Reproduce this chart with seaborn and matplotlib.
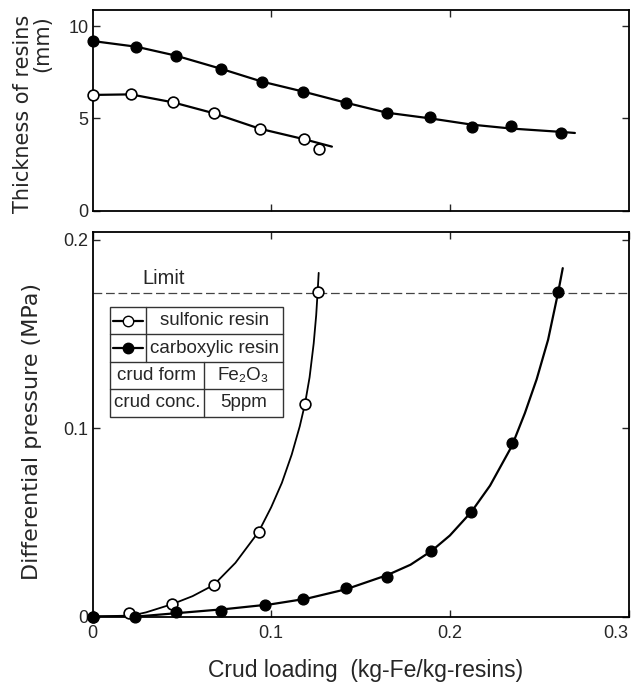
import numpy as np
import pandas as pd
import seaborn as sns
import matplotlib
matplotlib.use("Agg")
from matplotlib import pyplot as plt
from matplotlib.patches import Rectangle

# --- data ---
# upper panel: thickness of resins (mm)
thk_sulf_x = [0, 0.0215, 0.045, 0.0678, 0.0936, 0.1185, 0.1265]
thk_sulf_y = [6.27, 6.31, 5.87, 5.28, 4.44, 3.87, 3.36]
thk_carb_x = [0, 0.0246, 0.0466, 0.0718, 0.0949, 0.118, 0.1418, 0.1646, 0.189, 0.2124, 0.2343, 0.262]
thk_carb_y = [9.19, 8.88, 8.40, 7.69, 6.99, 6.45, 5.85, 5.31, 5.06, 4.52, 4.59, 4.23]

# fitted curves drawn through the upper panel
fit_thk_sulf_x = [0, 0.0215, 0.045, 0.0678, 0.0936, 0.1185, 0.134]
fit_thk_sulf_y = [6.27, 6.30, 5.87, 5.28, 4.44, 3.87, 3.47]
fit_thk_carb_x = [0, 0.0246, 0.0466, 0.0718, 0.0949, 0.118, 0.1418, 0.1646, 0.189, 0.2124, 0.2343, 0.262, 0.27]
fit_thk_carb_y = [9.19, 8.88, 8.40, 7.69, 6.99, 6.45, 5.85, 5.31, 5.0, 4.66, 4.45, 4.27, 4.21]

# lower panel: differential pressure (MPa)
dp_sulf_x = [0, 0.0204, 0.0447, 0.0678, 0.093, 0.1189, 0.126]
dp_sulf_y = [0, 0.002, 0.0066, 0.0167, 0.045, 0.1128, 0.1722]
dp_carb_x = [0, 0.0237, 0.047, 0.0717, 0.0966, 0.118, 0.1418, 0.165, 0.1895, 0.212, 0.2347, 0.2607]
dp_carb_y = [0, 0.0, 0.0026, 0.003, 0.0061, 0.0093, 0.015, 0.0211, 0.0349, 0.0557, 0.092, 0.1725]

# fitted curves drawn through the lower panel
fit_dp_sulf_x = [0, 0.022, 0.030, 0.0447, 0.056, 0.0678, 0.080, 0.093, 0.100, 0.106, 0.1115,
                 0.116, 0.1189, 0.1215, 0.1238, 0.1252, 0.126, 0.1266]
fit_dp_sulf_y = [0, 0.0005, 0.0022, 0.0066, 0.0108, 0.0167, 0.0285, 0.045, 0.058, 0.071, 0.086,
                 0.101, 0.1128, 0.127, 0.145, 0.160, 0.1722, 0.1825]
fit_dp_carb_x = [0, 0.025, 0.05, 0.075, 0.1, 0.12, 0.142, 0.165, 0.178, 0.19, 0.20, 0.212,
                 0.2225, 0.2347, 0.242, 0.2486, 0.255, 0.2607, 0.2632]
fit_dp_carb_y = [0, 0.0, 0.002, 0.004, 0.0065, 0.0095, 0.0145, 0.022, 0.0275, 0.035, 0.043, 0.0555,
                 0.0695, 0.0905, 0.108, 0.126, 0.147, 0.1725, 0.185]

LIMIT = 0.172

sns.set_style("ticks")
plt.rcParams['font.family'] = ['Liberation Sans', 'DejaVu Sans']
plt.rcParams['xtick.direction'] = 'in'
plt.rcParams['ytick.direction'] = 'in'

fig = plt.figure(figsize=(6.35, 6.87), dpi=100)
W, H = 635, 687
L, R = 92.5, 628.5
ax1 = fig.add_axes([L / W, 1 - 210.7 / H, (R - L) / W, (210.7 - 10) / H])
ax2 = fig.add_axes([L / W, 1 - 616.5 / H, (R - L) / W, (616.5 - 232) / H])

line_kw = dict(color='black', linewidth=1.6, legend=False)
open_kw = dict(color='white', edgecolor='black', linewidth=1.2, s=60, zorder=5, legend=False, clip_on=False)
fill_kw = dict(color='black', edgecolor='black', linewidth=1.0, s=60, zorder=5, legend=False, clip_on=False)

# upper panel
sns.lineplot(x=fit_thk_sulf_x, y=fit_thk_sulf_y, ax=ax1, sort=False, **line_kw)
sns.lineplot(x=fit_thk_carb_x, y=fit_thk_carb_y, ax=ax1, sort=False, **line_kw)
sns.scatterplot(x=thk_sulf_x, y=thk_sulf_y, ax=ax1, **open_kw)
sns.scatterplot(x=thk_carb_x, y=thk_carb_y, ax=ax1, **fill_kw)
ax1.set_xlim(0, 0.3)
ax1.set_ylim(0, 10.87)
ax1.set_xticks([0.1, 0.2])
ax1.set_xticklabels([])
ax1.set_yticks([0, 5, 10])
ax1.set_ylabel("Thickness of resins\n(mm)", fontsize=15, family=['DejaVu Sans'],
               multialignment='right', linespacing=0.95)
ax1.yaxis.set_label_coords(-0.075, 0.48)

# lower panel
sns.lineplot(x=fit_dp_sulf_x, y=fit_dp_sulf_y, ax=ax2, sort=False, color='black', linewidth=1.3, legend=False)
sns.lineplot(x=fit_dp_carb_x, y=fit_dp_carb_y, ax=ax2, sort=False, **line_kw)
ax2.axhline(LIMIT, color='#444444', linewidth=0.9, dashes=(7, 3), zorder=1)
sns.scatterplot(x=dp_sulf_x, y=dp_sulf_y, ax=ax2, **open_kw)
sns.scatterplot(x=dp_carb_x, y=dp_carb_y, ax=ax2, **fill_kw)
ax2.text(0.028, LIMIT + 0.0025, "Limit", fontsize=14.5, va='bottom', ha='left')
ax2.set_xlim(0, 0.3)
ax2.set_ylim(0, 0.2042)
ax2.set_xticks([0, 0.1, 0.2, 0.3])
ax2.set_xticklabels(['0', '0.1', '0.2', '0.3'])
ax2.get_xticklabels()[-1].set_horizontalalignment('right')
ax2.set_yticks([0, 0.1, 0.2])
ax2.set_yticklabels(['0', '0.1', '0.2'])
ax2.set_ylabel("Differential pressure (MPa)", fontsize=16, family=['DejaVu Sans'])
ax2.yaxis.set_label_coords(-0.095, 0.48)
ax2.set_xlabel("Crud loading  (kg-Fe/kg-resins)", fontsize=16.5, va='top')
ax2.xaxis.set_label_coords(0.51, -0.11)

for ax in (ax1, ax2):
    ax.tick_params(top=True, right=True, length=5, width=1.0, labelsize=13, pad=3)
    ax.tick_params(axis='x', pad=6)
    for sp in ax.spines.values():
        sp.set_linewidth(1.3)
        sp.set_color('black')

# legend table inside the lower panel (axes fractions)
tx0, tx1 = 0.0327, 0.355
div_a, div_b = 0.0995, 0.2073
rows = [0.804, 0.7347, 0.661, 0.591, 0.5196]
tr = ax2.transAxes
ax2.add_patch(Rectangle((tx0, rows[-1]), tx1 - tx0, rows[0] - rows[-1], transform=tr,
                        fill=True, facecolor='white', edgecolor='#333333', linewidth=1.0, zorder=6))
for r in rows[1:-1]:
    ax2.plot([tx0, tx1], [r, r], transform=tr, color='#333333', linewidth=1.0, zorder=7)
ax2.plot([div_a, div_a], [rows[2], rows[0]], transform=tr, color='#333333', linewidth=1.0, zorder=7)
ax2.plot([div_b, div_b], [rows[4], rows[2]], transform=tr, color='#333333', linewidth=1.0, zorder=7)

centers = [(rows[i] + rows[i + 1]) / 2 for i in range(4)]
ax2.plot([0.0384, 0.0664, 0.0945], [centers[0]] * 3, transform=tr, color='black', linewidth=1.6,
         marker='o', markevery=[1], markerfacecolor='white', markeredgecolor='black', markersize=7.5, zorder=8)
ax2.plot([0.0384, 0.0664, 0.0945], [centers[1]] * 3, transform=tr, color='black', linewidth=1.6,
         marker='o', markevery=[1], markerfacecolor='black', markersize=7.5, zorder=8)
txt_kw = dict(transform=tr, fontsize=13.5, va='center', ha='center', zorder=8)
ax2.text((div_a + tx1) / 2, centers[0], "sulfonic resin", **txt_kw)
ax2.text((div_a + tx1) / 2, centers[1], "carboxylic resin", **txt_kw)
ax2.text((tx0 + div_b) / 2, centers[2], "crud form", **txt_kw)
ax2.text((div_b + tx1) / 2, centers[2], "Fe₂O₃", **txt_kw)
ax2.text((tx0 + div_b) / 2, centers[3], "crud conc.", **txt_kw)
ax2.text((div_b + tx1) / 2, centers[3], "5ppm", **txt_kw)

fig.savefig("out.png", dpi=100)
